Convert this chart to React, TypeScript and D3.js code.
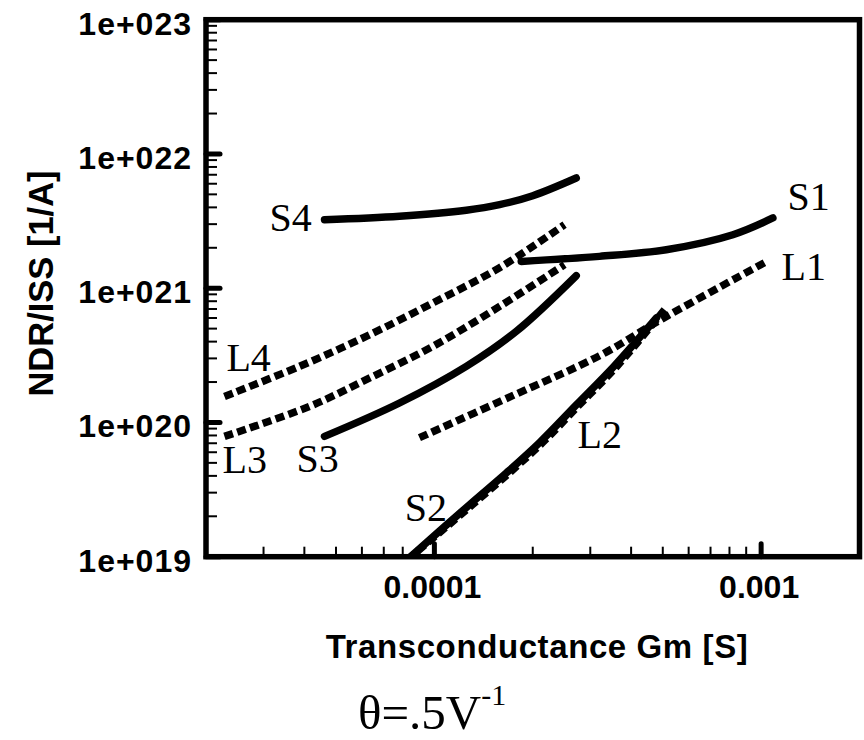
import React from "react";
import * as d3 from "d3";

// ---- axes ----
const xDomain = [2e-5, 2e-3];
const yDomain = [1e19, 1e23];
const xMajorTicks = [1e-4, 1e-3];
const xTickLabels = ["0.0001", "0.001"];
const yMajorTicks = [1e19, 1e20, 1e21, 1e22, 1e23];
const yTickLabels = ["1e+019", "1e+020", "1e+021", "1e+022", "1e+023"];
const xTitle = "Transconductance Gm [S]";
const yTitle = "NDR/ISS [1/A]";

// ---- series (Gm [S], NDR/ISS [1/A]) ----
const s1Gm = [1.844e-4, 3.202e-4, 5.123e-4, 8.195e-4, 1.086e-3];
const s1Val = [1.584e21, 1.726e21, 1.936e21, 2.503e21, 3.334e21];

const s2Gm = [8.45e-5, 1.281e-4, 1.663e-4, 2.098e-4, 2.723e-4, 3.558e-4, 4.786e-4];
const s2Val = [1.0e19, 2.44e19, 4.22e19, 7.07e19, 1.356e20, 2.647e20, 6.03e20];

const s3Gm = [4.61e-5, 7.82e-5, 1.252e-4, 1.78e-4, 2.717e-4];
const s3Val = [7.87e19, 1.396e20, 2.616e20, 4.767e20, 1.239e21];

const s4Gm = [4.61e-5, 7.82e-5, 1.252e-4, 1.583e-4, 2.001e-4, 2.717e-4];
const s4Val = [3.237e21, 3.44e21, 3.81e21, 4.19e21, 4.887e21, 6.622e21];

const l1Gm = [9.0e-5, 1.735e-4, 3.202e-4, 4.993e-4, 1.024e-3];
const l1Val = [7.7e19, 1.582e20, 3.142e20, 5.93e20, 1.549e21];

const l2Gm = [8.277e-5, 1.308e-4, 1.698e-4, 2.143e-4, 2.781e-4, 3.635e-4, 5.063e-4];
const l2Val = [9.5e18, 2.44e19, 4.22e19, 7.07e19, 1.356e20, 2.647e20, 6.92e20];

const l3Gm = [2.278e-5, 4.147e-5, 6.185e-5, 9.89e-5, 1.583e-4, 2.502e-4];
const l3Val = [7.87e19, 1.317e20, 2.082e20, 3.686e20, 7.317e20, 1.496e21];

const l4Gm = [2.278e-5, 3.866e-5, 6.185e-5, 9.89e-5, 1.583e-4, 2.502e-4];
const l4Val = [1.563e20, 2.616e20, 4.375e20, 7.76e20, 1.421e21, 2.972e21];

// ---- curve annotations (name, Gm, value at text baseline) ----
const labelNames = ["S1", "S2", "S3", "S4", "L1", "L2", "L3", "L4"];
const labelGm = [1.204e-3, 8.116e-5, 3.784e-5, 3.128e-5, 1.155e-3, 2.742e-4, 2.246e-5, 2.31e-5];
const labelVal = [3.843e21, 1.855e19, 4.297e19, 2.649e21, 1.157e21, 6.485e19, 4.225e19, 2.43e20];

const series = [
  { gm: s1Gm, val: s1Val, dashed: false },
  { gm: s4Gm, val: s4Val, dashed: false },
  { gm: s3Gm, val: s3Val, dashed: false },
  { gm: l1Gm, val: l1Val, dashed: true },
  { gm: l3Gm, val: l3Val, dashed: true },
  { gm: l4Gm, val: l4Val, dashed: true },
  { gm: s2Gm, val: s2Val, dashed: false },
  { gm: l2Gm, val: l2Val, dashed: true },
];

const SANS = "'Liberation Sans', Arial, Helvetica, sans-serif";
const SERIF = "'Liberation Serif', 'Times New Roman', Times, serif";

export default function App() {
  const left = 206, right = 859.5, top = 19.7, bottom = 556.7;
  const x = d3.scaleLog().domain(xDomain).range([left, right]);
  const y = d3.scaleLog().domain(yDomain).range([bottom, top]);

  const line = d3
    .line<[number, number]>()
    .x((d) => x(d[0]))
    .y((d) => y(d[1]))
    .curve(d3.curveCatmullRom.alpha(0.5));

  // minor ticks
  const xMinor: number[] = [];
  for (let e = -5; e <= -3; e++) {
    for (let m = 2; m <= 9; m++) {
      const v = m * Math.pow(10, e);
      if (v > xDomain[0] * 1.0001 && v < xDomain[1] * 0.9999) xMinor.push(v);
    }
  }
  const yMinor: number[] = [];
  for (let e = 19; e <= 22; e++) {
    for (let m = 2; m <= 9; m++) yMinor.push(m * Math.pow(10, e));
  }

  return (
    <svg
      width={864}
      height={740}
      style={{ position: "absolute", left: 0, top: 0, background: "#fff" }}
    >
      <defs>
        <clipPath id="plotclip">
          <rect x={left + 2} y={top + 2} width={right - left - 4} height={bottom - top - 4} />
        </clipPath>
      </defs>
      <rect x={0} y={0} width={864} height={740} fill="#fff" />

      {/* minor ticks */}
      {xMinor.map((v, i) => (
        <line key={"xm" + i} x1={x(v)} x2={x(v)} y1={bottom} y2={bottom - 10} stroke="#000" strokeWidth={2} />
      ))}
      {yMinor.map((v, i) => (
        <line key={"ym" + i} x1={left} x2={left + 11} y1={y(v)} y2={y(v)} stroke="#000" strokeWidth={2} />
      ))}
      {/* major ticks */}
      {xMajorTicks.map((v, i) => (
        <line key={"xM" + i} x1={x(v)} x2={x(v)} y1={bottom} y2={bottom - 13} stroke="#000" strokeWidth={5} strokeLinecap="round" />
      ))}
      {yMajorTicks.map((v, i) => (
        <line key={"yM" + i} x1={left} x2={left + 14} y1={y(v)} y2={y(v)} stroke="#000" strokeWidth={5} strokeLinecap="round" />
      ))}

      {/* series */}
      <g clipPath="url(#plotclip)">
        {series.map((s, i) => (
          <path
            key={"s" + i}
            d={line(s.gm.map((g, j) => [g, s.val[j]] as [number, number])) || ""}
            fill="none"
            stroke="#000"
            strokeWidth={7.5}
            strokeLinecap={s.dashed ? "butt" : "round"}
            strokeDasharray={s.dashed ? "9 4.5" : undefined}
          />
        ))}
      </g>

      {/* frame */}
      <rect x={left} y={top} width={right - left} height={bottom - top} fill="none" stroke="#000" strokeWidth={5.5} />

      {/* tick labels */}
      {yMajorTicks.map((v, i) => (
        <text key={"yl" + i} x={192} y={y(v) + 15} textAnchor="end" fontFamily={SANS} fontWeight="bold" fontSize={32} letterSpacing={1}>
          {yTickLabels[i]}
        </text>
      ))}
      {xMajorTicks.map((v, i) => (
        <text key={"xl" + i} x={x(v) - 2} y={598} textAnchor="middle" fontFamily={SANS} fontWeight="bold" fontSize={32}>
          {xTickLabels[i]}
        </text>
      ))}

      {/* axis titles */}
      <text x={537} y={658} textAnchor="middle" fontFamily={SANS} fontWeight="bold" fontSize={33} letterSpacing={0.6}>
        {xTitle}
      </text>
      <text transform="translate(53,283.5) rotate(-90)" textAnchor="middle" fontFamily={SANS} fontWeight="bold" fontSize={34.5}>
        {yTitle}
      </text>

      {/* curve labels */}
      {labelNames.map((n, i) => (
        <text key={"lab" + i} x={x(labelGm[i])} y={y(labelVal[i])} fontFamily={SERIF} fontSize={40}>
          {n}
        </text>
      ))}

      {/* bottom caption */}
      <text x={358} y={729} fontFamily={SERIF} fontSize={49}>
        θ=.5V
        <tspan fontSize={30} dy={-24}>-1</tspan>
      </text>
    </svg>
  );
}
